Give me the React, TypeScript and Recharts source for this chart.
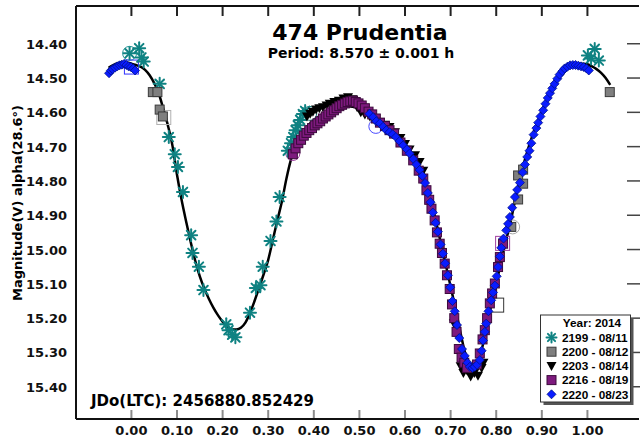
import React from 'react'
import { ComposedChart, Line, Scatter, XAxis, YAxis } from 'recharts'

type Pt = [number, number]

// phase, magnitude
const s2199: Pt[] = [
  [-0.004, 14.428], [0.017, 14.413], [0.022, 14.44], [0.027, 14.452], [0.062, 14.517],
  [0.082, 14.672], [0.095, 14.722], [0.102, 14.759], [0.113, 14.832], [0.131, 14.958],
  [0.134, 15.01], [0.148, 15.05], [0.158, 15.118], [0.208, 15.218], [0.213, 15.235],
  [0.221, 15.248], [0.228, 15.256], [0.26, 15.184], [0.273, 15.112], [0.283, 15.104],
  [0.288, 15.05], [0.305, 14.975], [0.318, 14.918], [0.325, 14.847], [0.343, 14.712],
  [0.35, 14.69], [0.355, 14.672], [0.36, 14.652], [0.365, 14.638], [0.37, 14.622],
  [0.376, 14.605], [0.381, 14.596], [1.001, 14.434], [1.008, 14.443], [1.016, 14.415],
  [1.025, 14.449],
]

const s2200: Pt[] = [
  [0.047, 14.541], [0.057, 14.541], [0.062, 14.592], [0.069, 14.612],
  [0.833, 14.934], [0.848, 14.854], [0.848, 14.784], [0.859, 14.767], [0.859, 14.808],
  [1.049, 14.541],
]

const s2203: Pt[] = [
  [0.385, 14.612], [0.392, 14.604], [0.398, 14.598], [0.405, 14.592], [0.412, 14.588],
  [0.42, 14.585], [0.428, 14.58], [0.435, 14.575], [0.445, 14.57], [0.455, 14.566],
  [0.465, 14.56], [0.475, 14.556], [0.485, 14.562], [0.495, 14.585], [0.503, 14.6],
  [0.512, 14.606], [0.523, 14.612], [0.533, 14.62], [0.545, 14.628], [0.556, 14.636],
  [0.566, 14.643], [0.578, 14.658], [0.59, 14.675], [0.6, 14.692], [0.61, 14.708],
  [0.622, 14.725], [0.632, 14.745], [0.64, 14.77],
  [0.707, 15.215], [0.722, 15.34], [0.728, 15.36], [0.736, 15.352], [0.744, 15.37],
  [0.752, 15.36], [0.76, 15.368], [0.768, 15.345], [0.772, 15.33],
]

const s2216: Pt[] = [
  [0.354, 14.722], [0.36, 14.705], [0.366, 14.69], [0.372, 14.68], [0.378, 14.668],
  [0.384, 14.66], [0.39, 14.652], [0.396, 14.646], [0.402, 14.638], [0.408, 14.632],
  [0.414, 14.626], [0.42, 14.618], [0.426, 14.612], [0.432, 14.606], [0.438, 14.6],
  [0.444, 14.594], [0.45, 14.588], [0.456, 14.582], [0.462, 14.578], [0.468, 14.574],
  [0.474, 14.57], [0.48, 14.568], [0.486, 14.566], [0.492, 14.57], [0.498, 14.574],
  [0.505, 14.58], [0.512, 14.588], [0.52, 14.598], [0.528, 14.606], [0.536, 14.618],
  [0.545, 14.63], [0.556, 14.64], [0.566, 14.652], [0.576, 14.662], [0.59, 14.688],
  [0.604, 14.712], [0.618, 14.74], [0.63, 14.77], [0.64, 14.793], [0.647, 14.827],
  [0.653, 14.855], [0.658, 14.881], [0.665, 14.915], [0.67, 14.95], [0.676, 14.983],
  [0.681, 15.01], [0.687, 15.041], [0.692, 15.075], [0.698, 15.115], [0.703, 15.16],
  [0.708, 15.2], [0.713, 15.24], [0.718, 15.29], [0.724, 15.315], [0.73, 15.33],
  [0.736, 15.345], [0.758, 15.335], [0.764, 15.303], [0.77, 15.262], [0.775, 15.235],
  [0.78, 15.2], [0.786, 15.157], [0.791, 15.128], [0.797, 15.099], [0.804, 15.051],
  [0.808, 15.022], [0.815, 14.983],
]

const s2220: Pt[] = [
  [-0.049, 14.486], [-0.045, 14.478], [-0.041, 14.474], [-0.036, 14.47], [-0.031, 14.466],
  [-0.026, 14.463], [-0.021, 14.461], [-0.016, 14.459], [-0.011, 14.462], [-0.006, 14.466],
  [-0.001, 14.468], [0.004, 14.472], [0.008, 14.478],
  [0.522, 14.604], [0.53, 14.614], [0.537, 14.626], [0.545, 14.632], [0.552, 14.642],
  [0.559, 14.652], [0.566, 14.658], [0.573, 14.664], [0.58, 14.672], [0.588, 14.684],
  [0.596, 14.696], [0.604, 14.708], [0.61, 14.72], [0.618, 14.736], [0.625, 14.752],
  [0.632, 14.768], [0.638, 14.785], [0.644, 14.806], [0.65, 14.835], [0.656, 14.862],
  [0.661, 14.892], [0.667, 14.922], [0.672, 14.948], [0.678, 14.985], [0.683, 15.012],
  [0.688, 15.04], [0.694, 15.075], [0.699, 15.11], [0.704, 15.15], [0.709, 15.18],
  [0.714, 15.22], [0.719, 15.258], [0.725, 15.29], [0.731, 15.31], [0.737, 15.33],
  [0.742, 15.342], [0.748, 15.345], [0.753, 15.342], [0.758, 15.336], [0.764, 15.322],
  [0.768, 15.295], [0.771, 15.265], [0.775, 15.24], [0.778, 15.216], [0.783, 15.18],
  [0.789, 15.148], [0.793, 15.125], [0.797, 15.105], [0.801, 15.078], [0.804, 15.051],
  [0.808, 15.02], [0.811, 14.995], [0.816, 14.968], [0.822, 14.944], [0.826, 14.925],
  [0.83, 14.905], [0.835, 14.878], [0.841, 14.847], [0.846, 14.826], [0.852, 14.805],
  [0.858, 14.775], [0.863, 14.752], [0.868, 14.73], [0.873, 14.712], [0.877, 14.69],
  [0.882, 14.665], [0.888, 14.646], [0.892, 14.63], [0.897, 14.612], [0.903, 14.594],
  [0.908, 14.575], [0.913, 14.558], [0.918, 14.544], [0.923, 14.53], [0.928, 14.517],
  [0.934, 14.502], [0.939, 14.49], [0.945, 14.48], [0.95, 14.472], [0.956, 14.467],
  [0.962, 14.463], [0.968, 14.462], [0.974, 14.462], [0.98, 14.464], [0.986, 14.466],
  [0.992, 14.468], [0.998, 14.472], [1.003, 14.478],
]

// points flagged with an open marker in the original
const flagged: { p: Pt; kind: 'circle' | 'square'; color: string }[] = [
  { p: [-0.004, 14.428], kind: 'circle', color: '#2a9a9a' },
  { p: [0.0, 14.468], kind: 'square', color: '#3030ff' },
  { p: [0.071, 14.615], kind: 'square', color: '#b0b0b0' },
  { p: [0.391, 14.603], kind: 'circle', color: '#1c7c7c' },
  { p: [0.354, 14.72], kind: 'circle', color: '#a040a0' },
  { p: [0.536, 14.641], kind: 'circle', color: '#4a4aff' },
  { p: [0.836, 14.934], kind: 'circle', color: '#a8a8a8' },
  { p: [0.814, 14.982], kind: 'square', color: '#a040a0' },
  { p: [0.801, 15.162], kind: 'square', color: '#333333' },
]

// Fourier fit
const fit: Pt[] = [
  [-0.05, 14.47], [-0.04, 14.462], [-0.03, 14.457], [-0.02, 14.455], [-0.01, 14.455],
  [0.0, 14.458], [0.01, 14.462], [0.02, 14.467], [0.03, 14.476], [0.04, 14.492],
  [0.05, 14.515], [0.06, 14.545], [0.07, 14.59], [0.08, 14.638], [0.09, 14.697],
  [0.1, 14.782], [0.11, 14.855], [0.12, 14.918], [0.13, 14.978], [0.14, 15.033],
  [0.15, 15.078], [0.16, 15.114], [0.17, 15.144], [0.18, 15.17], [0.19, 15.192],
  [0.2, 15.21], [0.21, 15.224], [0.22, 15.232], [0.23, 15.233], [0.24, 15.228],
  [0.25, 15.213], [0.26, 15.185], [0.27, 15.15], [0.28, 15.112], [0.29, 15.072],
  [0.3, 15.03], [0.31, 14.972], [0.32, 14.915], [0.33, 14.86], [0.34, 14.793],
  [0.35, 14.737], [0.36, 14.698], [0.37, 14.671], [0.38, 14.651], [0.39, 14.635],
  [0.4, 14.623], [0.42, 14.605], [0.44, 14.594], [0.46, 14.587], [0.48, 14.583],
  [0.5, 14.588], [0.52, 14.601], [0.54, 14.618], [0.56, 14.638], [0.58, 14.662],
  [0.6, 14.697], [0.62, 14.74], [0.63, 14.765], [0.64, 14.792], [0.65, 14.828],
  [0.66, 14.872], [0.67, 14.93], [0.68, 14.99], [0.69, 15.048], [0.7, 15.108],
  [0.71, 15.168], [0.72, 15.232], [0.73, 15.292], [0.74, 15.334], [0.75, 15.347],
  [0.76, 15.333], [0.77, 15.282], [0.78, 15.218], [0.79, 15.157], [0.8, 15.099],
  [0.81, 15.04], [0.82, 14.982], [0.83, 14.928], [0.84, 14.866], [0.85, 14.806],
  [0.86, 14.752], [0.87, 14.706], [0.88, 14.665], [0.89, 14.63], [0.9, 14.597],
  [0.91, 14.565], [0.92, 14.538], [0.93, 14.515], [0.94, 14.497], [0.95, 14.482],
  [0.96, 14.471], [0.97, 14.463], [0.98, 14.459], [0.99, 14.458], [1.0, 14.46],
  [1.01, 14.466], [1.02, 14.474], [1.03, 14.485], [1.04, 14.5], [1.05, 14.52],
]

const xTicks = [0, 0.1, 0.2, 0.3, 0.4, 0.5, 0.6, 0.7, 0.8, 0.9, 1.0]
const yTicks = [14.4, 14.5, 14.6, 14.7, 14.8, 14.9, 15.0, 15.1, 15.2, 15.3, 15.4]

const legendItems = [
  { key: 's2199', label: '2199 - 08/11' },
  { key: 's2200', label: '2200 - 08/12' },
  { key: 's2203', label: '2203 - 08/14' },
  { key: 's2216', label: '2216 - 08/19' },
  { key: 's2220', label: '2220 - 08/23' },
]

const toRows = (a: Pt[]) => a.map(([phase, mag]) => ({ phase, mag }))

const TEAL = '#0f8282'
const FONT = '"DejaVu Sans", sans-serif'
const ARIAL = '"Liberation Sans", Arial, sans-serif'

const Asterisk = ({ cx, cy, r = 6 }: any) => {
  const d = r * 0.72
  return (
    <g stroke={TEAL} strokeWidth={2} strokeLinecap="round">
      <line x1={cx - r} y1={cy} x2={cx + r} y2={cy} />
      <line x1={cx} y1={cy - r} x2={cx} y2={cy + r} />
      <line x1={cx - d} y1={cy - d} x2={cx + d} y2={cy + d} />
      <line x1={cx - d} y1={cy + d} x2={cx + d} y2={cy - d} />
    </g>
  )
}
const GraySq = ({ cx, cy, s = 9 }: any) => (
  <rect x={cx - s / 2} y={cy - s / 2} width={s} height={s} fill="#7f7f7f" stroke="#3a3a3a" strokeWidth={1} />
)
const PurpleSq = ({ cx, cy, s = 9 }: any) => (
  <rect x={cx - s / 2} y={cy - s / 2} width={s} height={s} fill="#7e1a7e" stroke="#3c0a3c" strokeWidth={1} />
)
const Tri = ({ cx, cy, s = 10 }: any) => (
  <path d={`M${cx - s / 2},${cy - s * 0.4} L${cx + s / 2},${cy - s * 0.4} L${cx},${cy + s * 0.5} Z`} fill="#000" />
)
const Diamond = ({ cx, cy, s = 4.5 }: any) => (
  <path d={`M${cx},${cy - s} L${cx + s},${cy} L${cx},${cy + s} L${cx - s},${cy} Z`} fill="#0a1cff" stroke="#00108a" strokeWidth={0.8} />
)

const symbolFor = (key: string, cx: number, cy: number) => {
  if (key === 's2199') return <Asterisk cx={cx} cy={cy} r={5} />
  if (key === 's2200') return <GraySq cx={cx} cy={cy} s={9} />
  if (key === 's2203') return <Tri cx={cx} cy={cy} s={10} />
  if (key === 's2216') return <PurpleSq cx={cx} cy={cy} s={9} />
  return <Diamond cx={cx} cy={cy} s={4.5} />
}

const BottomTick = ({ x, y, payload }: any) => (
  <g>
    <line x1={x} y1={y - 1} x2={x} y2={y - 9} stroke="#8c8c8c" strokeWidth={2} />
    <text x={x} y={y + 16} textAnchor="middle" fontFamily={FONT} fontWeight="bold" fontSize={13} fill="#111">
      {Number(payload.value).toFixed(2)}
    </text>
  </g>
)
// the top axis is 1px tall, so its line sits at y + 1
const TopTick = ({ x, y }: any) => (
  <line x1={x} y1={y + 1} x2={x} y2={y + 10} stroke="#222" strokeWidth={2} />
)
const LeftTick = ({ x, y, payload }: any) => (
  <text x={x - 9} y={y + 5} textAnchor="end" fontFamily={FONT} fontWeight="bold" fontSize={13} fill="#111">
    {Number(payload.value).toFixed(2)}
  </text>
)
const RightTick = ({ x, y }: any) => (
  <line x1={x - 12} y1={y} x2={x + 1} y2={y} stroke="#444" strokeWidth={1.5} />
)

const FlagShape = (props: any) => {
  const { cx, cy, payload } = props
  if (payload.kind === 'circle') return <circle cx={cx} cy={cy} r={7} fill="none" stroke={payload.color} strokeWidth={1} />
  return <rect x={cx - 7} y={cy - 7} width={14} height={14} fill="none" stroke={payload.color} strokeWidth={1} />
}

export default function App() {
  const xDomain: [number, number] = [-0.1215, 1.1131]
  const yDomain: [number, number] = [14.29, 15.494]
  const flagRows = flagged.map(f => ({ phase: f.p[0], mag: f.p[1], kind: f.kind, color: f.color }))

  return (
    <div style={{ position: 'absolute', left: 0, top: 0, width: 640, height: 444, background: '#fff' }}>
      <ComposedChart width={640} height={444} margin={{ top: 5, right: 0, bottom: 0, left: 0 }}>
        <XAxis
          dataKey="phase" type="number" domain={xDomain} ticks={xTicks} allowDataOverflow
          height={25} tickSize={0} tickMargin={0} tickLine={false} interval={0}
          axisLine={{ stroke: '#111', strokeWidth: 2 }} tick={<BottomTick />}
        />
        <XAxis
          xAxisId="top" orientation="top" dataKey="phase" type="number" domain={xDomain} ticks={xTicks}
          allowDataOverflow height={1} tickSize={0} tickMargin={0} tickLine={false} interval={0}
          axisLine={{ stroke: '#111', strokeWidth: 2 }} tick={<TopTick />}
        />
        <YAxis
          dataKey="mag" type="number" domain={yDomain} ticks={yTicks} reversed allowDataOverflow
          width={76} tickSize={0} tickMargin={0} tickLine={false} interval={0}
          axisLine={{ stroke: '#111', strokeWidth: 2 }} tick={<LeftTick />}
        />
        <YAxis
          yAxisId="right" orientation="right" dataKey="mag" type="number" domain={yDomain} ticks={yTicks}
          reversed allowDataOverflow width={1} tickSize={0} tickMargin={0} tickLine={false} interval={0}
          axisLine={false} tick={<RightTick />}
        />
        <Scatter data={flagRows} isAnimationActive={false} shape={FlagShape} />
        <Scatter data={toRows(s2199)} isAnimationActive={false} shape={(p: any) => <Asterisk cx={p.cx} cy={p.cy} />} />
        <Scatter data={toRows(s2200)} isAnimationActive={false} shape={(p: any) => <GraySq cx={p.cx} cy={p.cy} />} />
        <Scatter data={toRows(s2203)} isAnimationActive={false} shape={(p: any) => <Tri cx={p.cx} cy={p.cy} />} />
        <Scatter data={toRows(s2216)} isAnimationActive={false} shape={(p: any) => <PurpleSq cx={p.cx} cy={p.cy} />} />
        <Scatter data={toRows(s2220)} isAnimationActive={false} shape={(p: any) => <Diamond cx={p.cx} cy={p.cy} />} />
        <Line
          data={toRows(fit)} dataKey="mag" type="monotone" dot={false} activeDot={false}
          stroke="#000" strokeWidth={2.5} isAnimationActive={false}
        />
      </ComposedChart>

      <svg width={640} height={444} style={{ position: 'absolute', left: 0, top: 0, pointerEvents: 'none' }}>
        <text x={360} y={40} textAnchor="middle" fontFamily={FONT} fontWeight="bold" fontSize={22} fill="#000">
          474 Prudentia
        </text>
        <text x={361} y={58} textAnchor="middle" fontFamily={FONT} fontWeight="bold" fontSize={14} fill="#000">
          Period: 8.570 ± 0.001 h
        </text>
        <text x={91} y={406} fontFamily={FONT} fontWeight="bold" fontSize={15} fill="#000">
          JDo(LTC): 2456880.852429
        </text>
        <text
          x={18} y={203} transform="rotate(-90 18 203)" textAnchor="middle" dominantBaseline="middle"
          fontFamily={FONT} fontWeight="bold" fontSize={13} fill="#000"
        >
          Magnitude(V) alpha(28.6°)
        </text>

        <g>
          <rect x={543.5} y={318} width={90} height={87} fill="#555" />
          <rect x={540.5} y={315} width={90} height={87} fill="#fff" stroke="#333" strokeWidth={1} />
          <text x={592} y={327} textAnchor="middle" fontFamily={ARIAL} fontWeight="bold" fontSize={11.8} fill="#000">
            Year: 2014
          </text>
          {legendItems.map((it, i) => {
            const cy = 337.5 + i * 14.2
            return (
              <g key={it.key}>
                {symbolFor(it.key, 551.5, cy)}
                <text x={562} y={cy + 4.2} fontFamily={ARIAL} fontWeight="bold" fontSize={11.8} fill="#000">
                  {it.label}
                </text>
              </g>
            )
          })}
        </g>
      </svg>
    </div>
  )
}
